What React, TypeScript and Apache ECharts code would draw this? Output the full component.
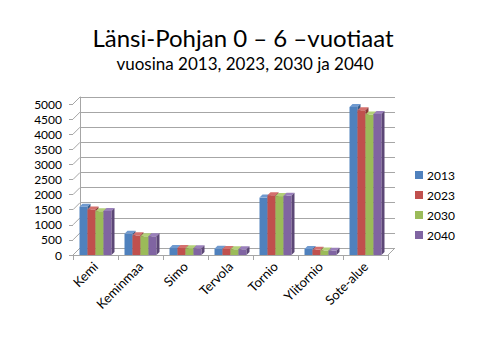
import React, { useEffect, useRef } from "react";
import * as echarts from "echarts";

const categories = ["Kemi", "Keminmaa", "Simo", "Tervola", "Tornio", "Ylitornio", "Sote-alue"];
const seriesNames = ["2013", "2023", "2030", "2040"];
const v2013 = [1600, 700, 230, 210, 1900, 200, 4900];
const v2023 = [1510, 650, 230, 200, 1980, 170, 4790];
const v2030 = [1450, 620, 220, 190, 1950, 150, 4650];
const v2040 = [1460, 620, 220, 190, 1960, 140, 4670];
const allValues = [v2013, v2023, v2030, v2040];
const colors = ["#4F81BD", "#C0504D", "#9BBB59", "#8064A2"];
const sideColors = ["#385D8A", "#8C3836", "#71893F", "#5C4776"];
const topColors = ["#6F9AD0", "#D4706D", "#B3D078", "#9A80BB"];

const DX = 7;
const DY = 7;
const BAR_W = 8;
const DEPTH = 3;

export default function App() {
  const ref = useRef<HTMLDivElement>(null);
  useEffect(() => {
    const chart = echarts.init(ref.current!, null, { renderer: "svg" });
    const front = { left: 73, top: 104, width: 315, height: 151 };
    const back = { left: 73 + DX, top: 104 - DY, width: 315, height: 151 };

    const series: any[] = seriesNames.map((name, s) => ({
      type: "custom",
      name,
      xAxisIndex: 1,
      yAxisIndex: 1,
      itemStyle: { color: colors[s] },
      data: allValues[s].map((v, i) => [i, v]),
      renderItem: (params: any, api: any) => {
        const ci = api.value(0);
        const val = api.value(1);
        const top = api.coord([ci, val]);
        const base = api.coord([ci, 0]);
        const x0 = top[0] - 2 * BAR_W + s * BAR_W;
        const yt = top[1];
        const yb = base[1];
        return {
          type: "group",
          children: [
            {
              type: "rect",
              shape: { x: x0, y: yt, width: BAR_W, height: yb - yt },
              style: { fill: colors[s] },
            },
            {
              type: "polygon",
              shape: {
                points: [
                  [x0, yt],
                  [x0 + DEPTH, yt - DEPTH],
                  [x0 + BAR_W + DEPTH, yt - DEPTH],
                  [x0 + BAR_W, yt],
                ],
              },
              style: { fill: topColors[s] },
            },
            {
              type: "polygon",
              shape: {
                points: [
                  [x0 + BAR_W, yt],
                  [x0 + BAR_W + DEPTH, yt - DEPTH],
                  [x0 + BAR_W + DEPTH, yb - DEPTH],
                  [x0 + BAR_W, yb],
                ],
              },
              style: { fill: sideColors[s] },
            },
          ],
        };
      },
    }));

    const yTicks = [0, 500, 1000, 1500, 2000, 2500, 3000, 3500, 4000, 4500, 5000];
    const graphics: any[] = [];
    yTicks.forEach((t) => {
      const y = front.top + front.height - (t / 5000) * front.height;
      graphics.push({
        type: "line",
        shape: { x1: front.left, y1: y, x2: front.left + DX, y2: y - DY },
        style: { stroke: "#A6A6A6", lineWidth: 1 },
        silent: true,
      });
    });
    graphics.push({
      type: "line",
      shape: {
        x1: front.left + front.width,
        y1: front.top + front.height,
        x2: front.left + front.width + DX,
        y2: front.top + front.height - DY,
      },
      style: { stroke: "#A6A6A6", lineWidth: 1 },
      silent: true,
    });

    chart.setOption({
      animation: false,
      title: [
        {
          text: "Länsi-Pohjan 0 – 6 –vuotiaat",
          left: 238,
          top: 20,
          textAlign: "center",
          textStyle: { fontFamily: "Lato", fontSize: 24, fontWeight: "normal", color: "#000" },
        },
        {
          text: "vuosina 2013, 2023, 2030 ja 2040",
          left: 240,
          top: 50,
          textAlign: "center",
          textStyle: { fontFamily: "Lato", fontSize: 17, fontWeight: "normal", color: "#000" },
        },
      ],
      legend: {
        orient: "vertical",
        left: 410,
        top: 163,
        itemGap: 6,
        itemWidth: 8,
        itemHeight: 8,
        icon: "rect",
        data: seriesNames,
        textStyle: { fontFamily: "Lato", fontSize: 12, lineHeight: 14, color: "#000", padding: [0, 0, 0, -1] },
      },
      grid: [
        { ...back, containLabel: false },
        { ...front, containLabel: false },
      ],
      xAxis: [
        {
          gridIndex: 0,
          type: "category",
          data: categories,
          show: false,
        },
        {
          gridIndex: 1,
          type: "category",
          data: categories,
          axisLine: { show: true, lineStyle: { color: "#A6A6A6" } },
          axisTick: { show: true, length: 5, lineStyle: { color: "#A6A6A6" } },
          axisLabel: {
            rotate: 45,
            fontFamily: "Lato",
            fontSize: 13,
            color: "#000",
            margin: 9,
            interval: 0,
          },
        },
      ],
      yAxis: [
        {
          gridIndex: 0,
          type: "value",
          min: 0,
          max: 5000,
          interval: 500,
          axisLabel: { show: false },
          axisTick: { show: false },
          axisLine: { show: true, lineStyle: { color: "#A6A6A6" } },
          splitLine: { show: true, lineStyle: { color: "#A6A6A6", width: 1 } },
        },
        {
          gridIndex: 1,
          type: "value",
          min: 0,
          max: 5000,
          interval: 500,
          axisLabel: {
            fontFamily: "Lato",
            fontSize: 12,
            color: "#000",
            margin: 11,
            formatter: (v: number) => String(v),
          },
          axisTick: { show: true, length: 4, lineStyle: { color: "#A6A6A6" } },
          axisLine: { show: false },
          splitLine: { show: false },
        },
      ],
      graphic: graphics,
      series,
    });
    return () => chart.dispose();
  }, []);
  return <div ref={ref} style={{ width: 480, height: 360, margin: -8 }} />;
}
